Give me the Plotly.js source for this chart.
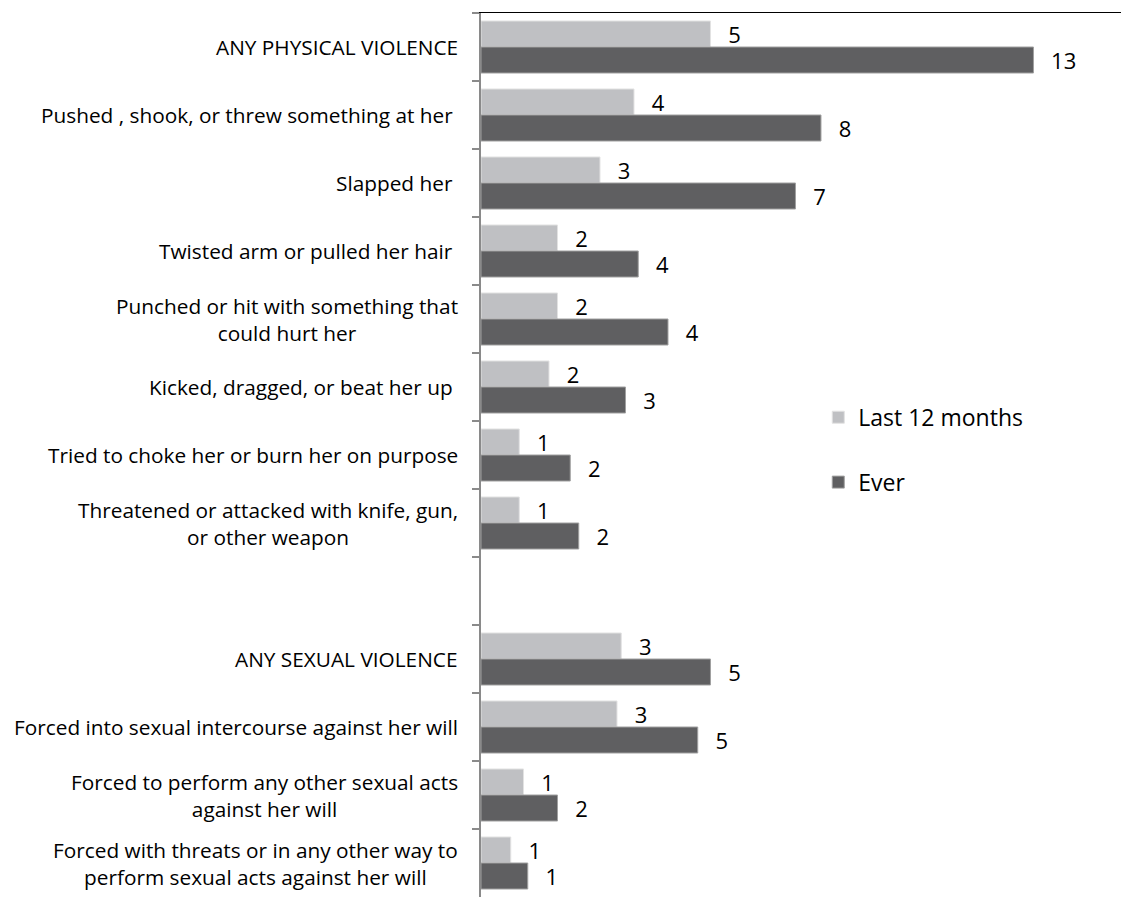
<!DOCTYPE html>
<html>
<head>
<meta charset="utf-8">
<script src="https://cdn.plot.ly/plotly-3.0.1.min.js"></script>
<style>html,body{margin:0;padding:0;background:#fff;}#chart{width:1121px;height:899px;}</style>
</head>
<body>
<div id="chart"></div>
<script>
var categories = [
  "ANY PHYSICAL VIOLENCE",
  "Pushed , shook, or threw something at her ",
  "Slapped her ",
  "Twisted arm or pulled her hair ",
  "Punched or hit with something that<br>could hurt her",
  "Kicked, dragged, or beat her up ",
  "Tried to choke her or burn her on purpose",
  "Threatened or attacked with knife, gun,<br>or other weapon",
  " ",
  "ANY SEXUAL VIOLENCE",
  "Forced into sexual intercourse against her will",
  "Forced to perform any other sexual acts<br>against her will",
  "Forced with threats or in any other way to<br>perform sexual acts against her will"
];
var last12 = [5.4, 3.6, 2.8, 1.8, 1.8, 1.6, 0.9, 0.9, null, 3.3, 3.2, 1.0, 0.7];
var ever   = [13.0, 8.0, 7.4, 3.7, 4.4, 3.4, 2.1, 2.3, null, 5.4, 5.1, 1.8, 1.1];
var seriesNames = ["Last 12 months", "Ever"];

var FONT = "Open Sans, Noto Sans, sans-serif";
function lbl(v){ return v==null ? "" : "\u2002\u2009" + String(Math.round(v)); }

var traces = [
  {type:"bar", orientation:"h", name:seriesNames[0], y:categories, x:last12,
   marker:{color:"#bfc0c3", line:{color:"#e2e2e2", width:1}},
   text:last12.map(lbl),
   textposition:"outside", cliponaxis:false, constraintext:"none",
   textfont:{family:FONT, size:22, color:"#000"}, legendgroup:"a"},
  {type:"bar", orientation:"h", name:seriesNames[1], y:categories, x:ever,
   marker:{color:"#5f5f61", line:{color:"#a0a0a0", width:1}},
   text:ever.map(lbl),
   textposition:"outside", cliponaxis:false, constraintext:"none",
   textfont:{family:FONT, size:22, color:"#000"}, legendgroup:"b"}
];

var annotations = categories.map(function(c){
  return {xref:"paper", yref:"y", x:0, y:c, text:c, showarrow:false,
          xanchor:"right", yanchor:"middle", align:"center", xshift:-21,
          font:{family:FONT, size:20.8, color:"#000"}};
});

var layout = {
  width:1121, height:899,
  margin:{l:481, r:0, t:13, b:2, pad:0},
  paper_bgcolor:"#fff", plot_bgcolor:"#fff",
  barmode:"group", bargap:0.235, bargroupgap:0,
  showlegend:true,
  legend:{x:0.527, y:0.567, xanchor:"left", yanchor:"top",
          font:{family:FONT, size:23, color:"#000"},
          traceorder:"grouped", tracegroupgap:32, itemwidth:30, bgcolor:"rgba(0,0,0,0)"},
  xaxis:{side:"top", range:[0, 15.06], showgrid:false, zeroline:false,
         showline:true, linecolor:"#000", linewidth:1.5, ticks:"", showticklabels:false,
         fixedrange:true},
  yaxis:{type:"category", categoryorder:"array", categoryarray:categories,
         autorange:"reversed", showgrid:false, zeroline:false,
         showline:true, linecolor:"#8a8a8a", linewidth:2,
         ticks:"outside", tickson:"boundaries", ticklen:7, tickcolor:"#8a8a8a", tickwidth:2,
         showticklabels:false, fixedrange:true},
  annotations:annotations
};

Plotly.newPlot("chart", traces, layout, {displayModeBar:false, staticPlot:true});
</script>
</body>
</html>
